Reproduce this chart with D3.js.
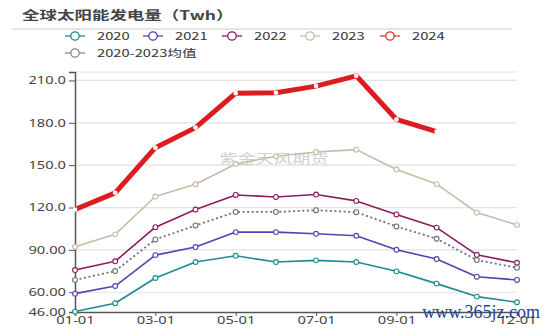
<!DOCTYPE html>
<html><head><meta charset="utf-8">
<script src="https://cdn.jsdelivr.net/npm/d3@7"></script>
<style>body{margin:0;background:#fff}svg{display:block}</style>
</head><body><svg id="c" width="550" height="330"></svg>
<script>
const months = ["01-01","02-01","03-01","04-01","05-01","06-01","07-01","08-01","09-01","10-01","11-01","12-01"];
const xTickLabels = ["01-01","03-01","05-01","07-01","09-01","12-01"];
const yTicks = [46, 60, 90, 120, 150, 180, 210];
const seriesNames = ["2020","2021","2022","2023","2024","2020-2023均值"];
const v2020 = [46.3, 52.2, 70.1, 81.4, 85.8, 81.4, 82.6, 81.4, 74.8, 66.1, 56.9, 52.9];
const v2021 = [59.0, 64.4, 86.3, 92.0, 102.6, 102.6, 101.4, 100.0, 90.1, 83.5, 71.0, 68.7];
const v2022 = [75.7, 81.9, 106.1, 118.6, 128.9, 127.5, 129.2, 124.7, 115.1, 105.8, 86.5, 80.9];
const v2023 = [92.2, 101.0, 127.8, 136.5, 150.8, 156.3, 159.3, 161.0, 146.9, 136.6, 116.5, 107.7];
const v2024 = [118.6, 130.4, 162.4, 176.6, 201.0, 201.3, 206.0, 213.3, 182.4, 173.7];
const vAvg  = [68.7, 75.0, 97.4, 107.3, 116.9, 116.9, 118.1, 116.7, 106.6, 97.9, 82.8, 77.4];

const SX = 1.4; // horizontal text stretch of the reference
const svg = d3.select("#c");
const x = d3.scalePoint().domain(months).range([75, 517]);
const y = d3.scaleLinear().domain([46, 216]).range([312, 72]);

// title
svg.append("text").attr("transform","translate(22,20) scale("+SX+",1)")
  .attr("font-family","'Noto Sans CJK SC'").attr("font-weight","bold").attr("font-size",12.5)
  .attr("fill","#444").text("全球太阳能发电量（Twh）");
svg.append("line").attr("x1",12).attr("x2",512).attr("y1",29).attr("y2",29)
  .attr("stroke","#ddd").attr("stroke-width",1.5);

// gridlines
const g = svg.append("g");
g.selectAll("line.grid").data(yTicks.filter(d=>d>46).concat([216])).join("line")
  .attr("x1",75).attr("x2",517).attr("y1",d=>y(d)).attr("y2",d=>y(d))
  .attr("stroke","#e2e2e2").attr("stroke-width",1.2);

// watermark
svg.append("text").attr("transform","translate(274,163) scale("+SX+",1)")
  .attr("text-anchor","middle").attr("font-family","'Noto Sans CJK SC'").attr("font-size",13)
  .attr("fill","#d0d0d0").text("紫金天风期货");

// axes
const yAxis = d3.axisLeft(y).tickValues(yTicks).tickFormat(d3.format(".4r")).tickSize(6).tickPadding(3);
const ya = svg.append("g").attr("transform","translate(75,0)").call(yAxis);
const xAxis = d3.axisBottom(x).tickValues(xTickLabels).tickSize(4).tickPadding(1);
const xa = svg.append("g").attr("transform","translate(0,312)").call(xAxis);
[ya, xa].forEach(a => {
  a.select(".domain").attr("stroke","#555").attr("stroke-width",1.5);
  a.selectAll(".tick line").attr("stroke","#555");
  a.selectAll("text").attr("font-family","'Noto Sans'").attr("font-size",10.5).attr("fill","#444")
    .each(function(){ const t=d3.select(this); const xx=+t.attr("x")||0; t.attr("x", xx/SX).attr("transform","scale("+SX+",1)"); });
});

// series
const series = [
  {name:"2020", vals:v2020, color:"#1c8c90", w:1.6},
  {name:"2021", vals:v2021, color:"#5742b0", w:1.6},
  {name:"2022", vals:v2022, color:"#8c1b60", w:1.6},
  {name:"2023", vals:v2023, color:"#c9baa7", w:1.6},
  {name:"2020-2023均值", vals:vAvg, color:"#707070", w:1.8, dash:"2,2.6"},
  {name:"2024", vals:v2024, color:"#dd1c22", w:5}
];
const line = d3.line().x((d,i)=>x(months[i])).y(d=>y(d));
series.forEach(s => {
  svg.append("path").datum(s.vals).attr("d", line).attr("fill","none")
    .attr("stroke", s.color).attr("stroke-width", s.w).attr("stroke-linejoin","round")
    .attr("stroke-dasharray", s.dash || null);
  svg.selectAll(null).data(s.vals).join("circle")
    .attr("cx",(d,i)=>x(months[i])).attr("cy",d=>y(d))
    .attr("r", s.name==="2024" ? 1.8 : 2.4)
    .attr("fill","#fff").attr("stroke", s.name==="2024" ? "#fff" : s.color).attr("stroke-width",1.1);
});

// legend
const legOrder = ["2020","2021","2022","2023","2024","2020-2023均值"];
const legPos = [[65,36],[143,36],[222,36],[300,36],[380,36],[65,53]];
const legColors = {"2020":"#1c8c90","2021":"#5742b0","2022":"#8c1b60","2023":"#c9baa7","2024":"#e03030","2020-2023均值":"#888"};
legOrder.forEach((n,i) => {
  const [lx,ly] = legPos[i];
  const lg = svg.append("g").attr("transform",`translate(${lx},${ly})`);
  lg.append("line").attr("x1",0).attr("x2",20).attr("y1",0).attr("y2",0).attr("stroke",legColors[n]).attr("stroke-width",1.3);
  lg.append("circle").attr("cx",10).attr("cy",0).attr("r",4.2).attr("fill","#fff").attr("stroke",legColors[n]).attr("stroke-width",1.3);
  lg.append("text").attr("transform",`translate(32,3.8) scale(${SX},1)`)
    .attr("font-family","'Noto Sans CJK SC'").attr("font-size",10.5).attr("fill","#333").text(n);
});

// site stamp
svg.append("text").attr("x",540).attr("y",318).attr("text-anchor","end")
  .attr("font-family","'Liberation Serif'").attr("font-size",18).attr("fill","#1d3f8f")
  .text("www.365jz.com");
</script></body></html>
